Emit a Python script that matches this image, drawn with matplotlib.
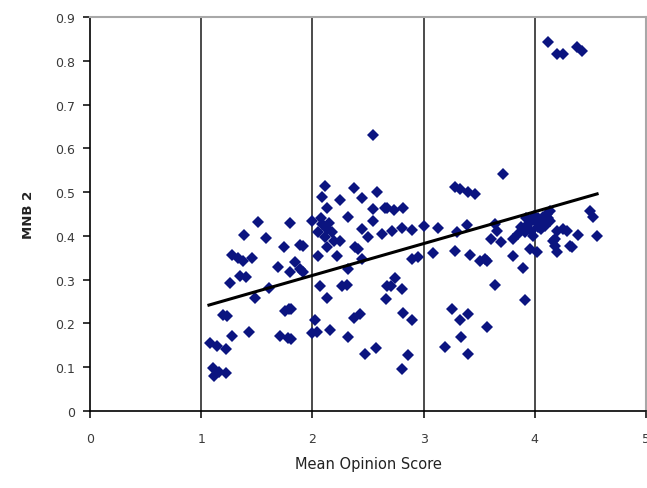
import numpy as np
import matplotlib
matplotlib.use("Agg")
import matplotlib.pyplot as plt

# ── Data ──────────────────────────────────────────────
mos = [
    1.08, 1.14, 1.22, 1.11, 1.16, 1.22, 1.12,
    1.20, 1.23, 1.28, 1.43, 1.26, 1.35, 1.40, 1.48,
    1.28, 1.33, 1.38, 1.46, 1.385, 1.51, 1.58, 1.61,
    1.69, 1.745, 1.80, 1.80, 1.84, 1.89, 1.92, 1.89, 1.92,
    1.75, 1.79, 1.81, 1.71, 1.78, 1.81,
    2.00, 2.04, 2.02, 2.16, 2.32, 2.37, 2.43, 2.47, 2.57,
    2.07, 2.13, 2.27, 2.31, 2.32,
    2.11, 2.37, 2.09, 2.25, 2.45, 2.58, 2.13, 2.545, 2.65,
    2.00, 2.09, 2.13, 2.05, 2.11, 2.32, 2.45, 2.545, 2.50, 2.63,
    2.25, 2.13, 2.22, 2.05, 2.38, 2.41, 2.19, 2.45, 2.545,
    2.15, 2.18, 2.08,
    2.67, 2.73, 2.815, 2.72, 2.81, 2.90, 3.00,
    2.90, 2.95,
    2.74, 2.71, 2.81, 2.66, 2.67,
    2.815, 2.90, 2.86, 2.81,
    3.13, 3.30, 3.39, 3.085, 3.28, 3.42, 3.51, 3.57,
    3.28, 3.33, 3.40, 3.46,
    3.255, 3.33, 3.40, 3.34, 3.19, 3.40, 3.57,
    3.71, 3.64, 3.66, 3.61, 3.70, 3.80, 3.91, 3.96, 4.02, 3.80, 3.55,
    4.18, 4.25, 4.18, 4.33, 4.39, 4.14, 4.07, 4.00, 3.94, 3.88, 4.03,
    4.09, 3.97, 3.85, 4.14, 4.11, 4.03, 3.96, 4.20, 4.29, 4.16, 4.20,
    4.32, 4.50, 4.52, 4.56,
    3.99, 4.05, 4.12, 3.92, 4.06, 3.98,
    3.89, 3.64, 3.91,
    4.12, 4.20, 4.25, 4.38, 4.42,
]
mnb2 = [
    0.155, 0.148, 0.142, 0.098, 0.089, 0.087, 0.080,
    0.220, 0.217, 0.171, 0.180, 0.292, 0.308, 0.306, 0.258,
    0.356, 0.350, 0.343, 0.350, 0.402, 0.431, 0.395, 0.280,
    0.330, 0.374, 0.430, 0.317, 0.340, 0.380, 0.377, 0.324, 0.317,
    0.228, 0.233, 0.233, 0.171, 0.167, 0.164,
    0.178, 0.180, 0.208, 0.185, 0.169, 0.212, 0.221, 0.130, 0.144,
    0.286, 0.258, 0.286, 0.288, 0.324,
    0.514, 0.510, 0.488, 0.482, 0.486, 0.500, 0.464, 0.461, 0.464,
    0.434, 0.427, 0.416, 0.409, 0.397, 0.443, 0.416, 0.434, 0.397, 0.404,
    0.389, 0.375, 0.354, 0.354, 0.375, 0.370, 0.389, 0.347, 0.630,
    0.430, 0.410, 0.440,
    0.464, 0.459, 0.464, 0.411, 0.418, 0.413, 0.423,
    0.347, 0.352,
    0.304, 0.285, 0.279, 0.256, 0.286,
    0.224, 0.208, 0.128, 0.096,
    0.418, 0.409, 0.425, 0.361, 0.366, 0.356, 0.343, 0.343,
    0.512, 0.507, 0.500, 0.496,
    0.233, 0.208, 0.221, 0.169, 0.146, 0.130, 0.192,
    0.541, 0.427, 0.411, 0.393, 0.386, 0.393, 0.409, 0.370, 0.363, 0.354, 0.347,
    0.393, 0.416, 0.377, 0.374, 0.402, 0.434, 0.443, 0.434, 0.427, 0.420, 0.420,
    0.423, 0.411, 0.404, 0.457, 0.450, 0.440, 0.432, 0.411, 0.411, 0.389, 0.363,
    0.377, 0.457, 0.443, 0.400,
    0.445, 0.430, 0.440, 0.440, 0.415, 0.400,
    0.327, 0.288, 0.253,
    0.843, 0.815, 0.815, 0.831, 0.822,
]
trend_x = [1.07, 4.56]
trend_y = [0.242, 0.496]

x_ticks = [0, 1, 2, 3, 4, 5]
y_ticks = [0, 0.1, 0.2, 0.3, 0.4, 0.5, 0.6, 0.7, 0.8, 0.9]
y_labels = ["0", "0.1", "0.2", "0.3", "0.4", "0.5", "0.6", "0.7", "0.8", "0.9"]

# ── Figure ────────────────────────────────────────────
fig = plt.figure(figsize=(6.47, 4.89), dpi=100)
ax = fig.add_axes([0.139, 0.1575, 0.8595, 0.8055])

for gx in x_ticks[1:-1]:
    ax.axvline(gx, color='#1a1a1a', lw=1.1, zorder=1)

ax.plot(mos, mnb2, ls='none', marker='D', ms=6.3, color='#0b1480',
        markeredgewidth=0, zorder=2)
ax.plot(trend_x, trend_y, color='black', lw=2.2, zorder=3)

ax.set_xlim(0, 5)
ax.set_ylim(0, 0.9)
ax.set_xticks(x_ticks)
ax.set_xticklabels([str(t) for t in x_ticks])
ax.set_yticks(y_ticks)
ax.set_yticklabels(y_labels)

ax.spines['left'].set_color('black')
ax.spines['bottom'].set_color('black')
ax.spines['left'].set_linewidth(1.2)
ax.spines['bottom'].set_linewidth(1.2)
ax.spines['top'].set_color('#a8a8a8')
ax.spines['right'].set_color('#a8a8a8')
ax.spines['top'].set_linewidth(1.5)
ax.spines['right'].set_linewidth(1.5)

ax.tick_params(axis='both', direction='out', length=5, width=1.1,
               color='black', labelcolor='#3a3a3a', labelsize=9)
ax.tick_params(axis='y', pad=6)
ax.tick_params(axis='x', pad=10)

ax.set_xlabel("Mean Opinion Score", fontsize=10.5, color='#222222', labelpad=8)
ax.set_ylabel("MNB 2", fontsize=9.5, fontweight='bold', color='#222222', labelpad=14)

fig.savefig("out.png", dpi=100, facecolor='white')
